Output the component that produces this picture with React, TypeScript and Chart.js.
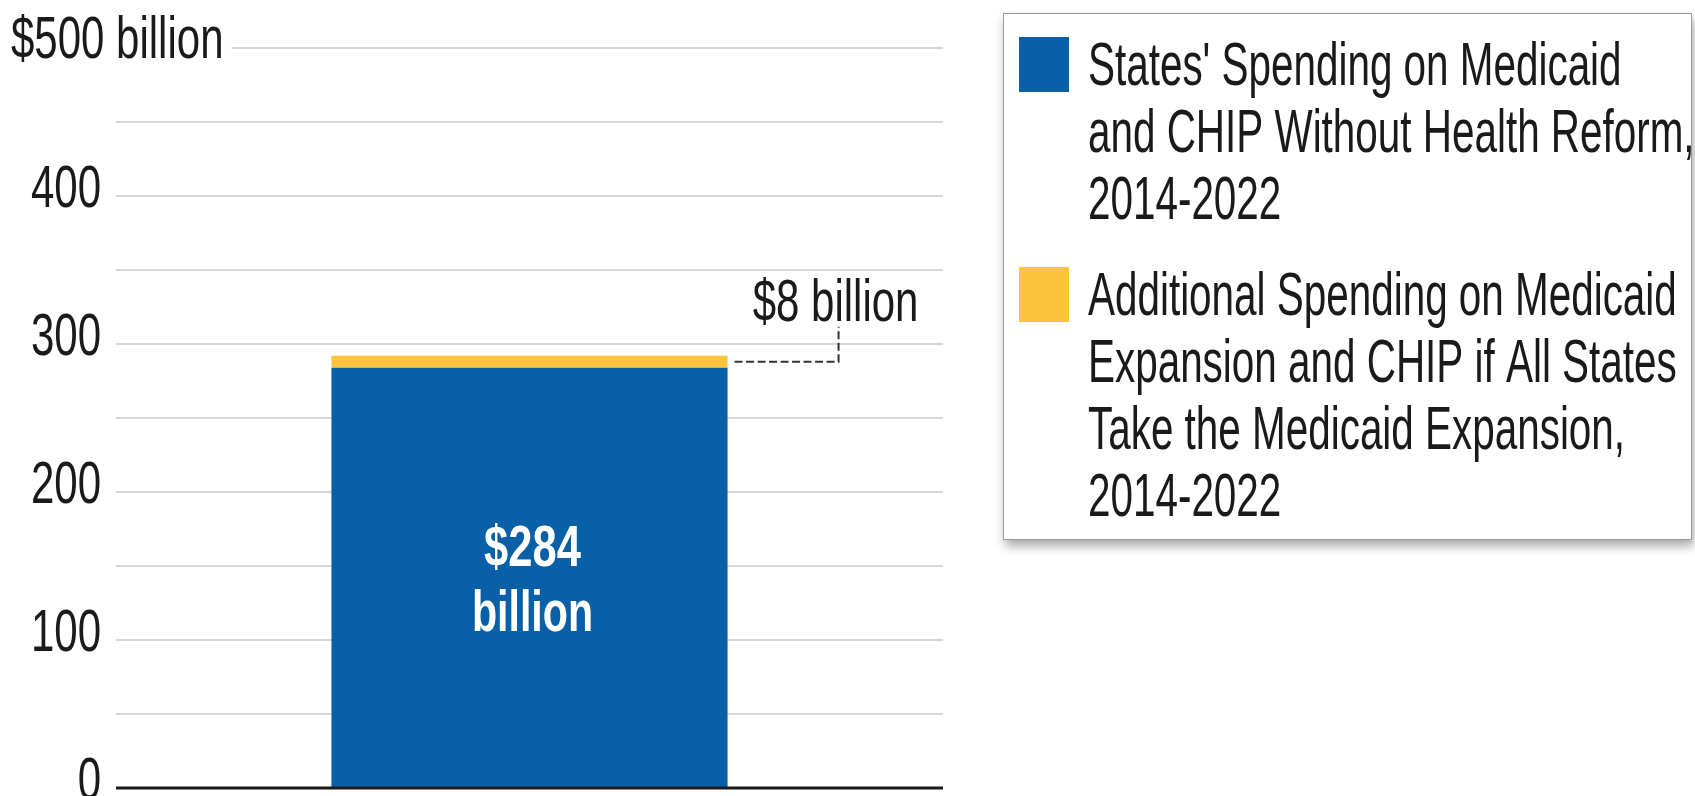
import React, { useEffect, useRef } from "react";
import { Chart, registerables } from "chart.js";

Chart.register(...registerables);

// ---- data ----
const categories = ["All States"];
const baseSpending = [284];
const additionalSpending = [8];
const tickValues = [0, 100, 200, 300, 400, 500];
const tickLabels = ["0", "100", "200", "300", "400", "$500 billion"];
const barLabelLines = ["$284", "billion"];
const additionalLabel = "$8 billion";
const legendBaseLines = [
  "States' Spending on Medicaid",
  "and CHIP Without Health Reform,",
  "2014-2022",
];
const legendAdditionalLines = [
  "Additional Spending on Medicaid",
  "Expansion and CHIP if All States",
  "Take the Medicaid Expansion,",
  "2014-2022",
];

const BLUE = "#0a60a6";
const YELLOW = "#fcc43d";
const FONT = "'Liberation Sans', Arial, sans-serif";

const W = 1695;
const H = 796;

function condensed(
  ctx: CanvasRenderingContext2D,
  text: string,
  x: number,
  y: number,
  size: number,
  weight: string,
  sx: number,
  align: CanvasTextAlign,
  color: string
) {
  ctx.save();
  ctx.font = `${weight} ${size}px ${FONT}`;
  ctx.fillStyle = color;
  ctx.translate(x, y);
  ctx.scale(sx, 1);
  ctx.textAlign = align;
  ctx.textBaseline = "alphabetic";
  ctx.fillText(text, 0, 0);
  ctx.restore();
}

function measure(ctx: CanvasRenderingContext2D, text: string, size: number, weight: string, sx: number) {
  ctx.save();
  ctx.font = `${weight} ${size}px ${FONT}`;
  const w = ctx.measureText(text).width * sx;
  ctx.restore();
  return w;
}

const TICK_SIZE = 60;
const TICK_SX = 0.70;
const LEGEND_SIZE = 62;
const LEGEND_SX = 0.652;

const decorPlugin = {
  id: "decor",
  afterDatasetsDraw(chart: any) {
    const ctx: CanvasRenderingContext2D = chart.ctx;
    const y = chart.scales.y;
    const area = chart.chartArea;

    // tick labels
    tickValues.forEach((v, i) => {
      const py = y.getPixelForValue(v);
      const label = tickLabels[i];
      if (v === 500) {
        const lx = 11;
        condensed(ctx, label, lx, py + 10, TICK_SIZE, "normal", TICK_SX, "left", "#1a1a1a");
        const endX = lx + measure(ctx, label, TICK_SIZE, "normal", TICK_SX) + 8;
        ctx.save();
        ctx.strokeStyle = "#d6d6d6";
        ctx.lineWidth = 2;
        ctx.beginPath();
        ctx.moveTo(endX, py);
        ctx.lineTo(area.right, py);
        ctx.stroke();
        ctx.restore();
      } else {
        condensed(ctx, label, 101, py + 11, TICK_SIZE, "normal", TICK_SX, "right", "#1a1a1a");
      }
    });

    // baseline
    const p0 = y.getPixelForValue(0);
    ctx.save();
    ctx.strokeStyle = "#1a1a1a";
    ctx.lineWidth = 3;
    ctx.beginPath();
    ctx.moveTo(area.left, p0);
    ctx.lineTo(area.right, p0);
    ctx.stroke();
    ctx.restore();

    // bar label inside blue bar
    const blue = chart.getDatasetMeta(0).data[0];
    if (blue) {
      const mid = (blue.y + blue.base) / 2;
      condensed(ctx, barLabelLines[0], blue.x + 3, mid - 11, 58, "bold", 0.75, "center", "#ffffff");
      condensed(ctx, barLabelLines[1], blue.x + 3, mid + 54, 58, "bold", 0.71, "center", "#ffffff");
    }

    // leader line for the yellow segment
    const yel = chart.getDatasetMeta(1).data[0];
    if (yel) {
      const ly = y.getPixelForValue(baseSpending[0] + additionalSpending[0] / 2);
      const sx = yel.x + yel.width / 2 + 7;
      const cx = sx + 104;
      const topY = ly - 35;
      ctx.save();
      ctx.strokeStyle = "#333333";
      ctx.lineWidth = 2;
      ctx.setLineDash([8, 3.5]);
      ctx.beginPath();
      ctx.moveTo(sx, ly);
      ctx.lineTo(cx, ly);
      ctx.lineTo(cx, topY);
      ctx.stroke();
      ctx.restore();
      condensed(ctx, additionalLabel, cx - 3, topY - 6, TICK_SIZE, "normal", TICK_SX, "center", "#1a1a1a");
    }

    // legend box
    const bx = 1003, by = 13, bw = 689, bh = 527;
    ctx.save();
    ctx.shadowColor = "rgba(0,0,0,0.35)";
    ctx.shadowBlur = 10;
    ctx.shadowOffsetX = 2;
    ctx.shadowOffsetY = 6;
    ctx.fillStyle = "#ffffff";
    ctx.fillRect(bx, by, bw, bh);
    ctx.restore();
    ctx.save();
    ctx.strokeStyle = "#9a9a9a";
    ctx.lineWidth = 1;
    ctx.strokeRect(bx + 0.5, by + 0.5, bw - 1, bh - 1);
    ctx.restore();

    const items = [
      { color: BLUE, lines: legendBaseLines, sqY: 37, base: 85 },
      { color: YELLOW, lines: legendAdditionalLines, sqY: 267, base: 315 },
    ];
    items.forEach((it) => {
      ctx.fillStyle = it.color;
      ctx.fillRect(1019, it.sqY, 50, 55);
      it.lines.forEach((ln, k) => {
        condensed(ctx, ln, 1088, it.base + k * 67, LEGEND_SIZE, "normal", LEGEND_SX, "left", "#1a1a1a");
      });
    });
  },
};

export default function App() {
  const ref = useRef<HTMLCanvasElement | null>(null);

  useEffect(() => {
    document.body.style.margin = "0";
    const canvas = ref.current;
    if (!canvas) return;
    const chart = new Chart(canvas, {
      type: "bar",
      data: {
        labels: categories,
        datasets: [
          {
            label: legendBaseLines.join(" "),
            data: baseSpending,
            backgroundColor: BLUE,
            borderWidth: 0,
            barPercentage: 0.479,
            categoryPercentage: 1,
          },
          {
            label: legendAdditionalLines.join(" "),
            data: additionalSpending,
            backgroundColor: YELLOW,
            borderWidth: 0,
            barPercentage: 0.479,
            categoryPercentage: 1,
          },
        ],
      },
      options: {
        responsive: false,
        animation: false,
        devicePixelRatio: 1,
        layout: { padding: { left: 116, right: W - 943, top: 48, bottom: 8 } },
        plugins: {
          legend: { display: false },
          tooltip: { enabled: false },
          title: { display: false },
        },
        scales: {
          x: { stacked: true, display: false },
          y: {
            stacked: true,
            min: 0,
            max: 500,
            ticks: { display: false, stepSize: 50 },
            border: { display: false },
            grid: {
              drawTicks: false,
              lineWidth: 2,
              color: (c: any) =>
                c.tick && (c.tick.value === 0 || c.tick.value === 500) ? "rgba(0,0,0,0)" : "#d6d6d6",
            },
          },
        },
      },
      plugins: [decorPlugin],
    });
    return () => chart.destroy();
  }, []);

  return (
    <div style={{ position: "absolute", left: 0, top: 0, width: W, height: H, background: "#fff" }}>
      <canvas ref={ref} width={W} height={H} style={{ display: "block", width: W, height: H }} />
    </div>
  );
}
